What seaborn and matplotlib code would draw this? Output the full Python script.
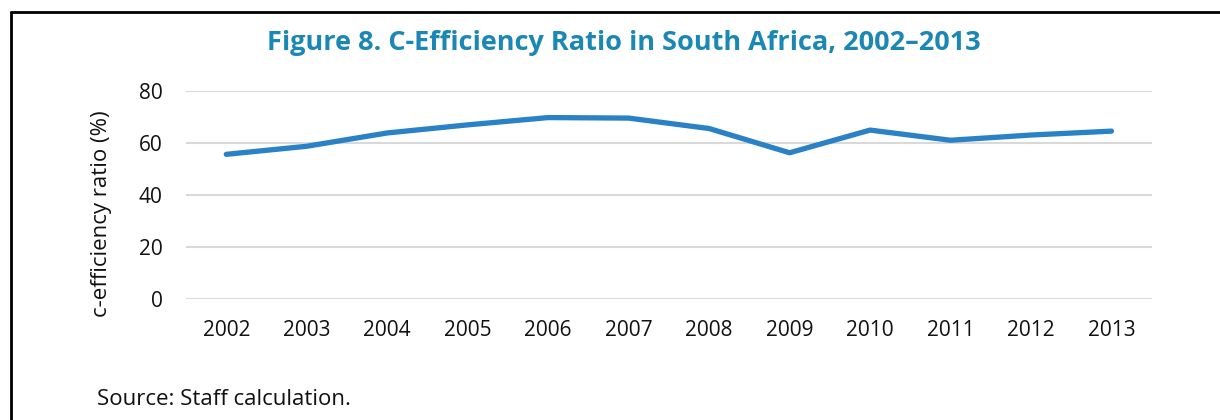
import matplotlib
matplotlib.use("Agg")
import matplotlib.pyplot as plt
import seaborn as sns
import pandas as pd
from matplotlib.lines import Line2D

# values
years = [2002, 2003, 2004, 2005, 2006, 2007, 2008, 2009, 2010, 2011, 2012, 2013]
c_efficiency = [55.6, 58.7, 63.8, 66.9, 69.7, 69.5, 65.5, 56.2, 64.9, 61.0, 63.0, 64.5]
y_ticks = [0, 20, 40, 60, 80]

df = pd.DataFrame({"year": years, "ratio": c_efficiency})

sns.set_style("white")
plt.rcParams["font.family"] = ["Open Sans", "DejaVu Sans"]

fig = plt.figure(figsize=(12.2, 4.2), dpi=100)
ax = fig.add_axes([0.1525, 0.2874, 0.7915, 0.4966])

sns.lineplot(data=df, x="year", y="ratio", ax=ax, color="#2A81C5",
             linewidth=3.8, solid_capstyle="round")

ax.set_xlim(years[0] - 0.5, years[-1] + 0.5)
ax.set_ylim(0, 80)
ax.set_xticks(years)
ax.set_xticklabels([str(y) for y in years])
ax.set_yticks(y_ticks)
ax.yaxis.grid(True, color="#D9D9D9", linewidth=1.5)
ax.set_axisbelow(True)
for s in ax.spines.values():
    s.set_visible(False)
ax.tick_params(axis="both", length=0, labelsize=15, colors="#111111")
ax.tick_params(axis="y", pad=17)
ax.tick_params(axis="x", pad=15)
ax.set_xlabel("")
ax.set_ylabel("c-efficiency ratio (%)", fontsize=16, color="#111111")
# label sits a little below the plot centre in the reference
ax.yaxis.set_label_coords(-0.077, 0.41)

fig.text(0.511, 0.898, "Figure 8. C-Efficiency Ratio in South Africa, 2002\u20132013",
         ha="center", va="center", fontsize=19.5, fontweight="bold", color="#1A87B4")
fig.text(0.0795, 0.048, "Source: Staff calculation.", ha="left", va="center",
         fontsize=16, color="#111111")

# frame lines (left and top) as in the report box
fig.add_artist(Line2D([0.0087, 0.0087], [0, 0.971], transform=fig.transFigure,
                      color="black", linewidth=2))
fig.add_artist(Line2D([0.0087, 1.0], [0.971, 0.971], transform=fig.transFigure,
                      color="black", linewidth=2))

fig.savefig("out.png", dpi=100)
